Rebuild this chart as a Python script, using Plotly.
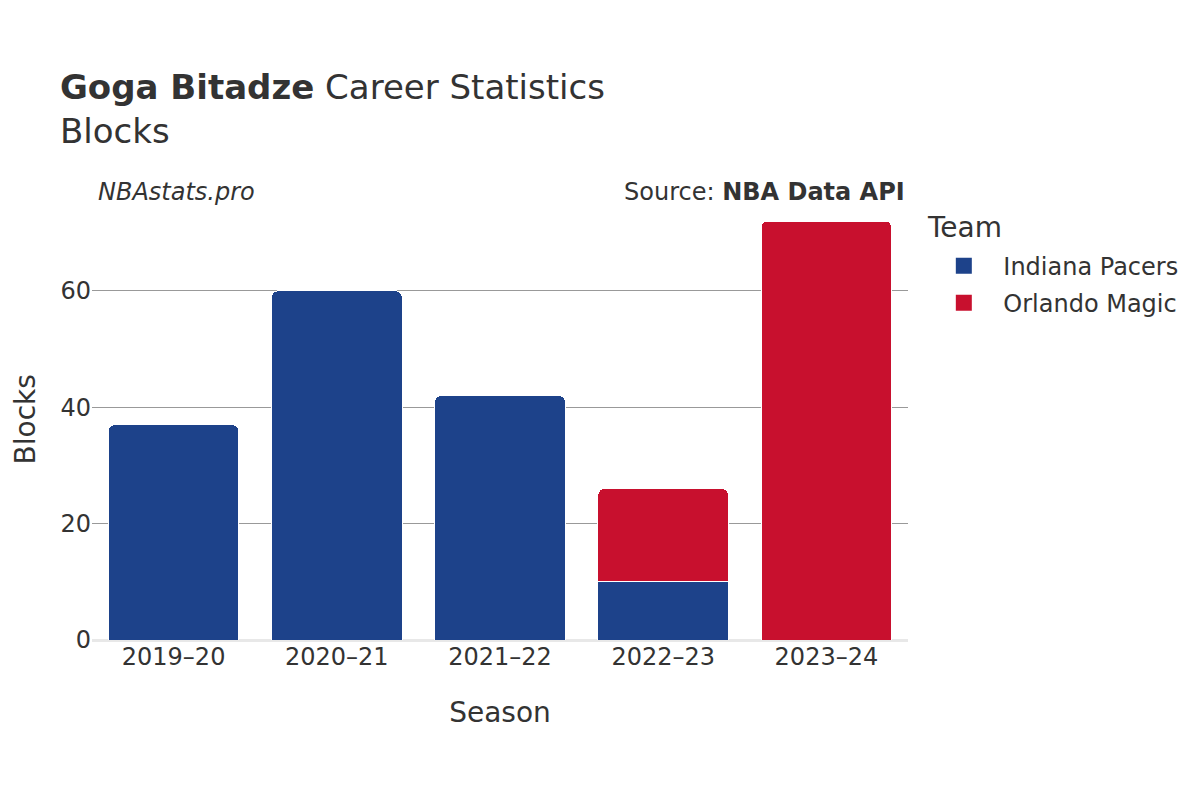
import plotly.graph_objects as go

seasons = ["2019–20", "2020–21", "2021–22", "2022–23", "2023–24"]
pacers_seasons = ["2019–20", "2020–21", "2021–22", "2022–23"]
pacers_blocks = [37, 60, 42, 10]
magic_seasons = ["2022–23", "2023–24"]
magic_blocks = [16, 72]
teams = ["Indiana Pacers", "Orlando Magic"]
team_colors = ["#1D428A", "#C8102E"]

FONT = "DejaVu Sans"
fig = go.Figure()
fig.add_trace(go.Bar(x=pacers_seasons, y=pacers_blocks, name=teams[0], legendgroup=teams[0],
                     showlegend=False,
                     marker=dict(color=team_colors[0], line=dict(color="white", width=1))))
fig.add_trace(go.Bar(x=magic_seasons, y=magic_blocks, name=teams[1], legendgroup=teams[1],
                     showlegend=False,
                     marker=dict(color=team_colors[1], line=dict(color="white", width=1))))
for t, c in zip(teams, team_colors):
    fig.add_trace(go.Scatter(x=[None], y=[None], mode="markers", name=t, legendgroup=t,
                             xaxis="x2", yaxis="y2",
                             marker=dict(symbol="square", size=22, color=c)))

fig.update_layout(
    width=1200, height=800,
    barmode="stack", bargap=0.2, barcornerradius=6,
    font=dict(family=FONT, color="#333333", size=24),
    paper_bgcolor="white", plot_bgcolor="white",
    margin=dict(l=84, r=300, t=191, b=168, autoexpand=False),
    title=dict(text="<b>Goga Bitadze</b> Career Statistics<br>Blocks",
               x=0.0433, xanchor="left", y=0.886, yanchor="top",
               font=dict(family=FONT, size=34, color="#333333")),
    xaxis=dict(title=dict(text="Season", font=dict(size=28), standoff=32),
               categoryorder="array", categoryarray=seasons, range=[-0.5, 4.5],
               tickfont=dict(size=24), showgrid=False, automargin=False),
    yaxis=dict(tickfont=dict(size=24), showgrid=True, gridcolor="#999999", gridwidth=1,
               zeroline=True, zerolinecolor="#e8e8e8", zerolinewidth=3,
               tickvals=[0, 20, 40, 60], automargin=False),
    xaxis2=dict(overlaying="x", visible=False),
    yaxis2=dict(overlaying="y", visible=False),
    legend=dict(font=dict(size=24),
                x=1.02, xanchor="left", y=0.899, yanchor="top",
                traceorder="grouped", itemsizing="trace", itemwidth=69,
                tracegroupgap=3),
    annotations=[
        dict(text="Blocks", xref="paper", yref="paper", x=-0.081, y=0.5, textangle=-90,
             xanchor="center", yanchor="middle", showarrow=False, font=dict(size=28, color="#333333")),
        dict(text="Team", xref="paper", yref="paper", x=1.0208, y=0.9365,
             xanchor="left", yanchor="middle", showarrow=False, font=dict(size=28, color="#333333")),
        dict(text="<i>NBAstats.pro</i>", xref="paper", yref="paper", x=0.005, y=1.016,
             xanchor="left", yanchor="middle", showarrow=False, font=dict(size=24, color="#333333")),
        dict(text="Source: <b>NBA Data API</b>", xref="paper", yref="paper", x=0.9987, y=1.016,
             xanchor="right", yanchor="middle", showarrow=False, font=dict(size=24, color="#333333")),
    ],
)
fig.write_html("out.html")
